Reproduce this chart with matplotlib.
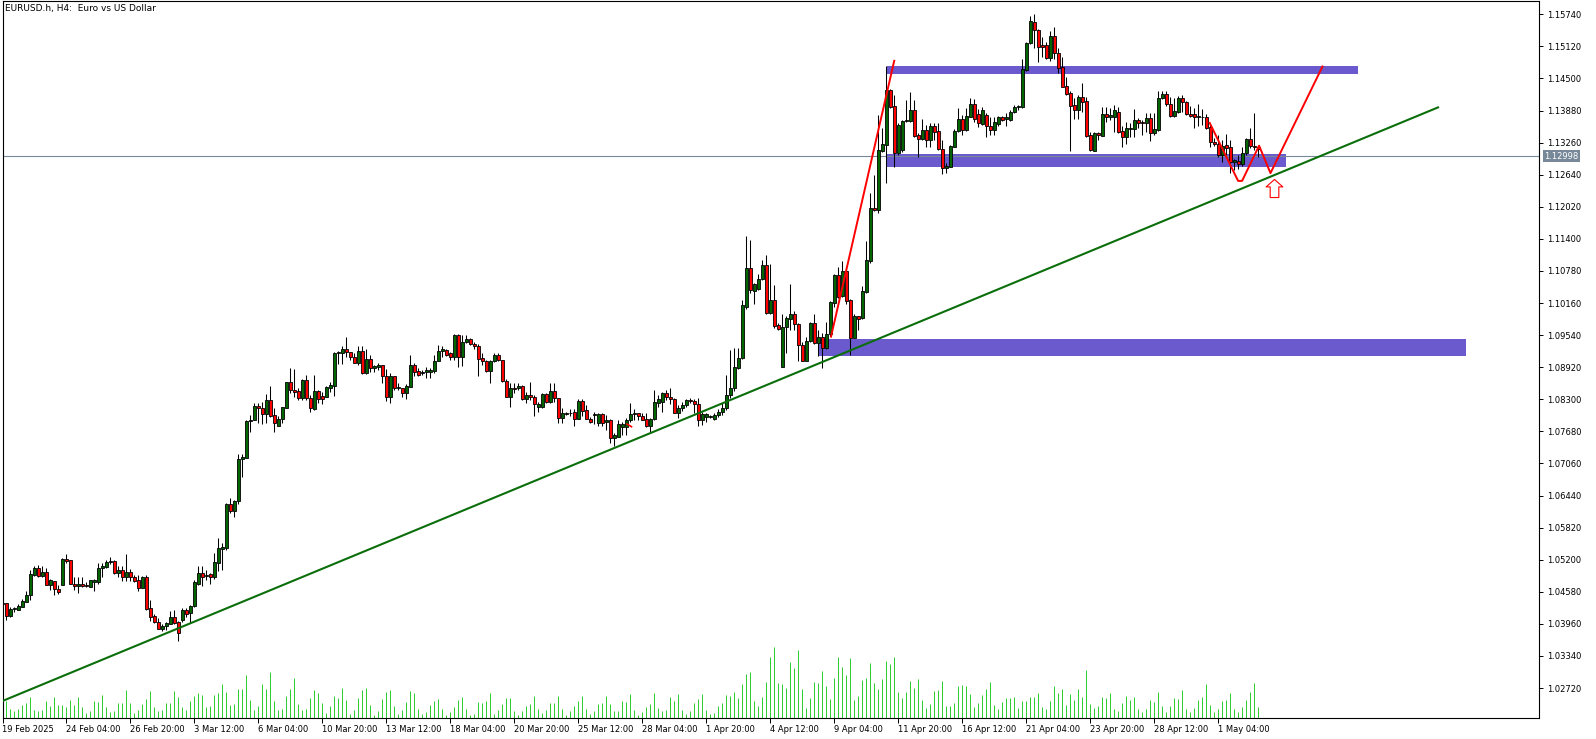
import numpy as np
import matplotlib
matplotlib.use("Agg")
import matplotlib.pyplot as plt
from matplotlib.patches import Rectangle
from matplotlib.path import Path

# EURUSD.h H4 candles, 19 Feb 2025 12:00 -> 2 May 2025 20:00 (one entry per bar)
opens = [
    1.0436, 1.0436, 1.0412, 1.0424, 1.0423, 1.0429, 1.0439, 1.0451, 1.0491, 1.0503,
    1.0489, 1.0496, 1.0472, 1.0478, 1.0464, 1.0472, 1.0521, 1.0519, 1.0474, 1.0469,
    1.0474, 1.0471, 1.0468, 1.0477, 1.0476, 1.0503, 1.0505, 1.0516, 1.0517, 1.0494,
    1.0500, 1.0486, 1.0496, 1.0486, 1.0481, 1.0466, 1.0486, 1.0426, 1.0411, 1.0400,
    1.0387, 1.0391, 1.0396, 1.0409, 1.0399, 1.0403, 1.0423, 1.0417, 1.0430, 1.0474,
    1.0494, 1.0488, 1.0492, 1.0486, 1.0514, 1.0541, 1.0542, 1.0628, 1.0615, 1.0633,
    1.0714, 1.0717, 1.0788, 1.0789, 1.0817, 1.0813, 1.0801, 1.0829, 1.0800, 1.0779,
    1.0792, 1.0814, 1.0863, 1.0848, 1.0846, 1.0832, 1.0867, 1.0832, 1.0811, 1.0846,
    1.0836, 1.0835, 1.0852, 1.0856, 1.0919, 1.0919, 1.0927, 1.0921, 1.0912, 1.0901,
    1.0923, 1.0880, 1.0908, 1.0890, 1.0893, 1.0896, 1.0875, 1.0835, 1.0875, 1.0851,
    1.0851, 1.0843, 1.0854, 1.0896, 1.0885, 1.0880, 1.0883, 1.0883, 1.0885, 1.0903,
    1.0923, 1.0925, 1.0919, 1.0912, 1.0954, 1.0912, 1.0940, 1.0946, 1.0937, 1.0932,
    1.0909, 1.0903, 1.0885, 1.0903, 1.0916, 1.0905, 1.0866, 1.0835, 1.0852, 1.0851,
    1.0856, 1.0831, 1.0838, 1.0834, 1.0815, 1.0815, 1.0840, 1.0824, 1.0846, 1.0832,
    1.0793, 1.0802, 1.0803, 1.0805, 1.0792, 1.0827, 1.0809, 1.0792, 1.0799, 1.0785,
    1.0801, 1.0786, 1.0790, 1.0755, 1.0758, 1.0777, 1.0777, 1.0789, 1.0802, 1.0803,
    1.0798, 1.0792, 1.0778, 1.0791, 1.0823, 1.0824, 1.0843, 1.0835, 1.0831, 1.0804,
    1.0814, 1.0818, 1.0829, 1.0826, 1.0820, 1.0789, 1.0795, 1.0795, 1.0792, 1.0800,
    1.0806, 1.0814, 1.0838, 1.0852, 1.0890, 1.0909, 1.1009, 1.1083, 1.1040, 1.1044,
    1.1062, 1.1089, 1.0997, 1.1022, 1.0974, 1.0893, 1.0969, 1.0986, 1.0995, 1.0976,
    1.0935, 1.0904, 1.0942, 1.0977, 1.0938, 1.0951, 1.0930, 1.0956, 1.1016, 1.1070,
    1.1029, 1.1078, 1.1022, 1.0949, 1.0990, 1.0987, 1.1038, 1.1098, 1.1199, 1.1195,
    1.1310, 1.1321, 1.1428, 1.1397, 1.1306, 1.1311, 1.1368, 1.1368, 1.1389, 1.1341,
    1.1332, 1.1350, 1.1331, 1.1358, 1.1348, 1.1313, 1.1276, 1.1279, 1.1318, 1.1348,
    1.1372, 1.1350, 1.1376, 1.1401, 1.1381, 1.1362, 1.1379, 1.1358, 1.1350, 1.1361,
    1.1376, 1.1372, 1.1370, 1.1385, 1.1394, 1.1395, 1.1466, 1.1518, 1.1559, 1.1544,
    1.1515, 1.1515, 1.1490, 1.1532, 1.1500, 1.1473, 1.1435, 1.1421, 1.1399, 1.1389,
    1.1415, 1.1407, 1.1341, 1.1310, 1.1344, 1.1339, 1.1381, 1.1376, 1.1376, 1.1385,
    1.1348, 1.1336, 1.1352, 1.1352, 1.1370, 1.1365, 1.1363, 1.1373, 1.1344, 1.1350,
    1.1412, 1.1420, 1.1401, 1.1377, 1.1386, 1.1412, 1.1404, 1.1382, 1.1382, 1.1375,
    1.1376, 1.1375, 1.1357, 1.1328, 1.1323, 1.1302, 1.1321, 1.1317, 1.1289, 1.1291,
    1.1284, 1.1305, 1.1333, 1.1319, 1.1318,
]
highs = [
    1.0440, 1.0437, 1.0428, 1.0428, 1.0434, 1.0445, 1.0459, 1.0500, 1.0507, 1.0510,
    1.0508, 1.0503, 1.0482, 1.0478, 1.0471, 1.0523, 1.0531, 1.0519, 1.0487, 1.0487,
    1.0487, 1.0476, 1.0481, 1.0483, 1.0514, 1.0514, 1.0519, 1.0526, 1.0519, 1.0507,
    1.0507, 1.0531, 1.0502, 1.0490, 1.0490, 1.0489, 1.0490, 1.0443, 1.0415, 1.0407,
    1.0396, 1.0400, 1.0420, 1.0423, 1.0402, 1.0426, 1.0426, 1.0433, 1.0480, 1.0507,
    1.0507, 1.0500, 1.0494, 1.0532, 1.0561, 1.0552, 1.0630, 1.0639, 1.0635, 1.0724,
    1.0724, 1.0790, 1.0800, 1.0822, 1.0822, 1.0825, 1.0840, 1.0856, 1.0813, 1.0798,
    1.0816, 1.0864, 1.0890, 1.0889, 1.0851, 1.0869, 1.0877, 1.0838, 1.0877, 1.0848,
    1.0845, 1.0856, 1.0864, 1.0921, 1.0924, 1.0933, 1.0951, 1.0922, 1.0919, 1.0932,
    1.0933, 1.0928, 1.0916, 1.0896, 1.0901, 1.0896, 1.0888, 1.0880, 1.0875, 1.0861,
    1.0851, 1.0860, 1.0916, 1.0901, 1.0890, 1.0887, 1.0893, 1.0890, 1.0916, 1.0934,
    1.0932, 1.0927, 1.0922, 1.0957, 1.0957, 1.0954, 1.0954, 1.0948, 1.0941, 1.0937,
    1.0919, 1.0906, 1.0905, 1.0919, 1.0919, 1.0906, 1.0869, 1.0861, 1.0861, 1.0861,
    1.0858, 1.0845, 1.0864, 1.0838, 1.0825, 1.0842, 1.0842, 1.0861, 1.0861, 1.0832,
    1.0813, 1.0806, 1.0811, 1.0811, 1.0831, 1.0831, 1.0819, 1.0795, 1.0806, 1.0803,
    1.0803, 1.0800, 1.0791, 1.0764, 1.0789, 1.0787, 1.0793, 1.0822, 1.0811, 1.0804,
    1.0803, 1.0803, 1.0793, 1.0848, 1.0838, 1.0845, 1.0848, 1.0851, 1.0832, 1.0819,
    1.0824, 1.0830, 1.0832, 1.0830, 1.0832, 1.0806, 1.0804, 1.0799, 1.0803, 1.0812,
    1.0822, 1.0877, 1.0925, 1.0929, 1.0929, 1.1022, 1.1146, 1.1138, 1.1055, 1.1073,
    1.1099, 1.1109, 1.1091, 1.1051, 1.0978, 1.0995, 1.0991, 1.1053, 1.1000, 1.0977,
    1.0941, 1.0951, 1.0980, 1.0994, 1.0964, 1.0958, 1.0980, 1.1019, 1.1073, 1.1086,
    1.1098, 1.1086, 1.1023, 1.0995, 1.0991, 1.1048, 1.1135, 1.1229, 1.1263, 1.1379,
    1.1355, 1.1474, 1.1429, 1.1418, 1.1363, 1.1370, 1.1408, 1.1424, 1.1408, 1.1344,
    1.1371, 1.1360, 1.1363, 1.1363, 1.1363, 1.1331, 1.1286, 1.1321, 1.1352, 1.1392,
    1.1379, 1.1393, 1.1413, 1.1410, 1.1390, 1.1394, 1.1384, 1.1376, 1.1375, 1.1377,
    1.1377, 1.1383, 1.1389, 1.1399, 1.1399, 1.1487, 1.1521, 1.1571, 1.1574, 1.1545,
    1.1531, 1.1521, 1.1542, 1.1550, 1.1508, 1.1492, 1.1453, 1.1425, 1.1412, 1.1418,
    1.1441, 1.1415, 1.1347, 1.1347, 1.1347, 1.1394, 1.1394, 1.1392, 1.1399, 1.1394,
    1.1358, 1.1365, 1.1363, 1.1390, 1.1373, 1.1370, 1.1383, 1.1383, 1.1383, 1.1426,
    1.1426, 1.1425, 1.1415, 1.1412, 1.1416, 1.1418, 1.1407, 1.1397, 1.1392, 1.1400,
    1.1390, 1.1382, 1.1360, 1.1334, 1.1341, 1.1331, 1.1343, 1.1331, 1.1295, 1.1302,
    1.1317, 1.1334, 1.1355, 1.1384, 1.1319,
]
lows = [
    1.0430, 1.0404, 1.0410, 1.0418, 1.0422, 1.0428, 1.0438, 1.0442, 1.0489, 1.0487,
    1.0487, 1.0471, 1.0461, 1.0451, 1.0454, 1.0471, 1.0513, 1.0473, 1.0461, 1.0455,
    1.0468, 1.0467, 1.0467, 1.0459, 1.0474, 1.0487, 1.0503, 1.0512, 1.0492, 1.0486,
    1.0478, 1.0478, 1.0478, 1.0476, 1.0460, 1.0465, 1.0422, 1.0402, 1.0397, 1.0386,
    1.0383, 1.0384, 1.0395, 1.0396, 1.0362, 1.0400, 1.0410, 1.0398, 1.0428, 1.0471,
    1.0469, 1.0481, 1.0474, 1.0482, 1.0499, 1.0500, 1.0539, 1.0611, 1.0603, 1.0628,
    1.0679, 1.0716, 1.0766, 1.0789, 1.0785, 1.0782, 1.0785, 1.0795, 1.0767, 1.0778,
    1.0784, 1.0813, 1.0843, 1.0834, 1.0829, 1.0829, 1.0829, 1.0806, 1.0810, 1.0822,
    1.0820, 1.0834, 1.0845, 1.0836, 1.0899, 1.0898, 1.0911, 1.0906, 1.0900, 1.0896,
    1.0879, 1.0879, 1.0882, 1.0883, 1.0887, 1.0861, 1.0827, 1.0823, 1.0848, 1.0848,
    1.0835, 1.0831, 1.0853, 1.0875, 1.0874, 1.0876, 1.0871, 1.0871, 1.0880, 1.0903,
    1.0912, 1.0914, 1.0906, 1.0905, 1.0893, 1.0894, 1.0938, 1.0935, 1.0928, 1.0874,
    1.0896, 1.0883, 1.0862, 1.0902, 1.0903, 1.0864, 1.0834, 1.0816, 1.0842, 1.0848,
    1.0829, 1.0822, 1.0829, 1.0798, 1.0806, 1.0814, 1.0822, 1.0822, 1.0825, 1.0784,
    1.0785, 1.0800, 1.0797, 1.0779, 1.0791, 1.0798, 1.0791, 1.0784, 1.0782, 1.0778,
    1.0778, 1.0771, 1.0745, 1.0739, 1.0757, 1.0761, 1.0761, 1.0787, 1.0790, 1.0789,
    1.0789, 1.0777, 1.0765, 1.0790, 1.0815, 1.0806, 1.0829, 1.0821, 1.0803, 1.0793,
    1.0808, 1.0816, 1.0822, 1.0803, 1.0778, 1.0780, 1.0787, 1.0794, 1.0790, 1.0795,
    1.0800, 1.0810, 1.0832, 1.0846, 1.0888, 1.0907, 1.1004, 1.1035, 1.1015, 1.1041,
    1.1061, 1.0995, 1.0995, 1.0967, 1.0964, 1.0892, 1.0919, 1.0964, 1.0964, 1.0903,
    1.0903, 1.0903, 1.0940, 1.0937, 1.0914, 1.0890, 1.0928, 1.0952, 1.1009, 1.1025,
    1.1028, 1.1015, 1.0916, 1.0948, 1.0964, 1.0985, 1.1035, 1.1093, 1.1193, 1.1189,
    1.1308, 1.1247, 1.1392, 1.1279, 1.1302, 1.1308, 1.1366, 1.1366, 1.1337, 1.1298,
    1.1331, 1.1318, 1.1318, 1.1331, 1.1312, 1.1265, 1.1267, 1.1278, 1.1317, 1.1347,
    1.1341, 1.1349, 1.1375, 1.1365, 1.1357, 1.1360, 1.1336, 1.1341, 1.1341, 1.1358,
    1.1368, 1.1358, 1.1368, 1.1383, 1.1389, 1.1392, 1.1465, 1.1517, 1.1508, 1.1482,
    1.1491, 1.1487, 1.1484, 1.1487, 1.1461, 1.1433, 1.1418, 1.1309, 1.1371, 1.1371,
    1.1386, 1.1337, 1.1310, 1.1309, 1.1331, 1.1339, 1.1365, 1.1370, 1.1347, 1.1345,
    1.1317, 1.1323, 1.1336, 1.1336, 1.1354, 1.1341, 1.1347, 1.1330, 1.1341, 1.1349,
    1.1410, 1.1397, 1.1375, 1.1375, 1.1384, 1.1385, 1.1379, 1.1376, 1.1355, 1.1358,
    1.1360, 1.1353, 1.1318, 1.1319, 1.1299, 1.1289, 1.1302, 1.1267, 1.1273, 1.1274,
    1.1281, 1.1302, 1.1315, 1.1312, 1.1299,
]
closes = [
    1.0434, 1.0412, 1.0424, 1.0426, 1.0431, 1.0440, 1.0451, 1.0492, 1.0503, 1.0489,
    1.0496, 1.0472, 1.0480, 1.0464, 1.0458, 1.0521, 1.0518, 1.0474, 1.0469, 1.0474,
    1.0470, 1.0469, 1.0480, 1.0481, 1.0503, 1.0507, 1.0516, 1.0518, 1.0494, 1.0500,
    1.0486, 1.0496, 1.0486, 1.0479, 1.0466, 1.0486, 1.0425, 1.0410, 1.0399, 1.0387,
    1.0392, 1.0397, 1.0409, 1.0398, 1.0378, 1.0423, 1.0415, 1.0431, 1.0476, 1.0494,
    1.0487, 1.0490, 1.0486, 1.0515, 1.0542, 1.0545, 1.0628, 1.0615, 1.0633, 1.0714,
    1.0719, 1.0788, 1.0790, 1.0817, 1.0813, 1.0801, 1.0829, 1.0798, 1.0784, 1.0792,
    1.0815, 1.0863, 1.0847, 1.0845, 1.0833, 1.0867, 1.0832, 1.0813, 1.0846, 1.0831,
    1.0831, 1.0854, 1.0858, 1.0919, 1.0921, 1.0927, 1.0921, 1.0911, 1.0901, 1.0923,
    1.0880, 1.0908, 1.0890, 1.0894, 1.0896, 1.0874, 1.0835, 1.0875, 1.0851, 1.0853,
    1.0843, 1.0856, 1.0896, 1.0883, 1.0876, 1.0883, 1.0886, 1.0887, 1.0904, 1.0924,
    1.0927, 1.0916, 1.0912, 1.0954, 1.0912, 1.0940, 1.0946, 1.0936, 1.0932, 1.0908,
    1.0903, 1.0885, 1.0903, 1.0916, 1.0905, 1.0866, 1.0835, 1.0852, 1.0850, 1.0856,
    1.0831, 1.0838, 1.0834, 1.0820, 1.0820, 1.0840, 1.0824, 1.0846, 1.0832, 1.0793,
    1.0803, 1.0804, 1.0804, 1.0792, 1.0827, 1.0808, 1.0792, 1.0786, 1.0801, 1.0801,
    1.0785, 1.0790, 1.0756, 1.0760, 1.0782, 1.0782, 1.0790, 1.0802, 1.0803, 1.0797,
    1.0790, 1.0778, 1.0792, 1.0824, 1.0830, 1.0843, 1.0835, 1.0830, 1.0804, 1.0814,
    1.0819, 1.0829, 1.0827, 1.0820, 1.0789, 1.0802, 1.0802, 1.0797, 1.0800, 1.0806,
    1.0814, 1.0838, 1.0852, 1.0892, 1.0910, 1.1012, 1.1083, 1.1041, 1.1053, 1.1062,
    1.1089, 1.0997, 1.1022, 1.0972, 1.0965, 1.0969, 1.0987, 1.0995, 1.0976, 1.0935,
    1.0904, 1.0943, 1.0977, 1.0938, 1.0951, 1.0930, 1.0956, 1.1017, 1.1070, 1.1028,
    1.1078, 1.1019, 1.0949, 1.0990, 1.0985, 1.1040, 1.1099, 1.1199, 1.1196, 1.1312,
    1.1323, 1.1428, 1.1395, 1.1306, 1.1360, 1.1368, 1.1370, 1.1389, 1.1339, 1.1332,
    1.1350, 1.1331, 1.1358, 1.1347, 1.1313, 1.1276, 1.1280, 1.1319, 1.1349, 1.1371,
    1.1350, 1.1377, 1.1401, 1.1371, 1.1363, 1.1389, 1.1358, 1.1350, 1.1365, 1.1376,
    1.1370, 1.1375, 1.1386, 1.1395, 1.1396, 1.1468, 1.1519, 1.1560, 1.1544, 1.1511,
    1.1510, 1.1490, 1.1532, 1.1500, 1.1471, 1.1434, 1.1420, 1.1397, 1.1389, 1.1415,
    1.1405, 1.1339, 1.1312, 1.1345, 1.1341, 1.1381, 1.1376, 1.1380, 1.1389, 1.1347,
    1.1336, 1.1354, 1.1355, 1.1370, 1.1364, 1.1363, 1.1373, 1.1345, 1.1352, 1.1413,
    1.1420, 1.1401, 1.1377, 1.1387, 1.1413, 1.1404, 1.1382, 1.1378, 1.1375, 1.1378,
    1.1375, 1.1355, 1.1328, 1.1324, 1.1302, 1.1320, 1.1315, 1.1289, 1.1293, 1.1284,
    1.1305, 1.1333, 1.1319, 1.1317, 1.1314,
]
tick_volume = [
    5000,
    5000, 2800, 2000, 2800, 4000, 4600, 6200, 2500, 2200, 2500,
    5200, 3700, 6400, 4000, 4000, 3400, 5500, 4000, 6200, 3400,
    1600, 2200, 5200, 4900, 7000, 3400, 1900, 2200, 4600, 4600,
    8500, 4600, 1600, 2500, 4300, 5800, 8200, 3400, 2200, 2500,
    4600, 4600, 8200, 6400, 3400, 2500, 5200, 6700, 7600, 7000,
    3400, 3700, 7000, 7600, 10300, 7900, 4000, 4300, 8800, 8800,
    13000, 5500, 2500, 3700, 10300, 8800, 13900, 5200, 2500, 2800,
    6700, 8800, 12100, 4300, 2500, 2800, 6100, 8500, 7600, 4600,
    1600, 3700, 6700, 6100, 9100, 5500, 1300, 2500, 6100, 8500,
    9100, 4000, 1000, 2200, 5800, 7900, 8500, 3700, 1300, 2500,
    4900, 8200, 7600, 2800, 1300, 1900, 4000, 5200, 5800, 2800,
    1000, 1900, 3400, 5500, 6400, 2800, 1000, 1300, 4900, 4600,
    5200, 7600, 1300, 2500, 4300, 6100, 6100, 2200, 1000, 2200,
    3700, 4300, 6700, 2800, 1600, 2500, 4600, 4600, 6700, 2800,
    1000, 2200, 3700, 5200, 6700, 2800, 1300, 2200, 4300, 4600,
    6700, 4300, 2200, 2200, 5200, 4900,
    7300, 2500, 1000, 1900, 3400, 4300, 7600, 3100, 2200, 2500,
    6400, 5200, 7300, 2500, 1300, 2200, 4600, 5800, 7300, 2500,
    1300, 1600, 3700, 4600, 7000, 6700, 7900, 6100, 10300, 13300,
    13900, 5200, 3700, 6400, 10900, 18400, 21400, 10600, 10300, 9100,
    16900, 15100, 20500, 8800, 3100, 6100, 10900, 10600, 14200, 9700,
    5800, 12100, 18400, 15400, 13000, 18100, 5500, 6700, 11500, 12100,
    16600, 10600, 8800, 11800, 17200, 16300, 18400, 7900, 6100, 7900,
    11200, 9100, 11800, 5500, 3100, 4300, 8200, 8500, 11200, 3700,
    3700, 4600, 9700, 10000, 9700, 7300, 3400, 4600, 7000, 8800,
    10900, 4000, 2800, 4900, 6100, 6100, 6400, 3100, 5200, 5200,
    6400, 6400, 7600, 3400, 2800, 5200, 9700, 7600, 8800, 4000,
    7300, 5500, 8800, 6400, 14500, 4300, 3100, 3700, 6400, 6100,
    7600, 2800, 2200, 4600, 6700, 5500, 6400, 2800, 1900, 2800,
    5500, 4900, 7900, 3700, 1900, 3700, 6100, 5800, 8500, 2800,
    1900, 3100, 5500, 6400, 10300, 4000, 1900, 2800, 5200, 5500,
    7600, 2800, 1900, 3400, 5500, 7900, 10600, 3400,
]

# time axis labels (every 16th bar) and price scale
label_bars = [0, 16, 32, 48, 64, 80, 96, 112, 128, 144,
              160, 176, 192, 208, 224, 240, 256, 272, 288, 304]
label_texts = ["19 Feb 2025", "24 Feb 04:00", "26 Feb 20:00", "3 Mar 12:00", "6 Mar 04:00",
               "10 Mar 20:00", "13 Mar 12:00", "18 Mar 04:00", "20 Mar 20:00", "25 Mar 12:00",
               "28 Mar 04:00", "1 Apr 20:00", "4 Apr 12:00", "9 Apr 04:00", "11 Apr 20:00",
               "16 Apr 12:00", "21 Apr 04:00", "23 Apr 20:00", "28 Apr 12:00", "1 May 04:00"]
price_labels = ["1.15740", "1.15120", "1.14500", "1.13880", "1.13260", "1.12640",
                "1.12020", "1.11400", "1.10780", "1.10160", "1.09540", "1.08920",
                "1.08300", "1.07680", "1.07060", "1.06440", "1.05820", "1.05200",
                "1.04580", "1.03960", "1.03340", "1.02720"]
bid_price = 1.12998

# chart objects, anchored at (bar index, price)
zone_start = [204.1, 221.2, 221.2]
zone_end = [366.0, 339.0, 321.0]
zone_low = [1.0914, 1.1459, 1.1279]
zone_high = [1.0947, 1.1474, 1.1303]
trend_bars = [0.0, 359.0]
trend_prices = [1.0247, 1.1394]
impulse_bars = [207.2, 223.0]
impulse_prices = [1.0951, 1.1484]
path_bars = [301.9, 309.0, 310.0, 314.25, 317.1, 330.1]
path_prices = [1.1364, 1.1252, 1.1252, 1.1320, 1.1267, 1.1473]
hook_bars = [156.2, 157.3]
hook_prices = [1.0782, 1.0777]
arrow_bar = 318.1
arrow_price = 1.1238

o = np.array(opens)
h = np.array(highs)
l = np.array(lows)
c = np.array(closes)
v = np.array(tick_volume)
x = np.arange(len(c))

W, H = 1596, 739
fig = plt.figure(figsize=(W / 100, H / 100), dpi=100)
fig.patch.set_facecolor("white")

# plot area in pixels: left 2.5, right 1539, top 1, bottom 718
rect = [2.5 / W, (H - 718) / H, (1539 - 2.5) / W, 717 / H]
xlim = ((2.5 - 2) / 4, (1539 - 2) / 4)   # one bar every 4 px
ylim = (1.02141, 1.15996)

# volumes sit in their own axes behind the price axes
ax_vol = fig.add_axes(rect)
ax_vol.vlines(x, 0, v, color="#32cd32", lw=0.72)
ax_vol.set_xlim(xlim)
ax_vol.set_ylim(0, 717 * 300)
ax_vol.axis("off")

ax = fig.add_axes(rect)
ax.patch.set_visible(False)
ax.set_xlim(xlim)
ax.set_ylim(ylim)

# support / resistance zones
for x0, x1, lo, hi in zip(zone_start, zone_end, zone_low, zone_high):
    ax.add_patch(Rectangle((x0, lo), x1 - x0, hi - lo, facecolor="#6a5acd",
                           edgecolor="none", zorder=1))

ax.axhline(bid_price, color="#778899", lw=0.8, zorder=2)

# candles
up = c >= o
body_lo = np.minimum(o, c)
body_h = np.maximum(np.abs(c - o), 0.00003)
ax.vlines(x, l, h, color="black", lw=0.75, zorder=3)
ax.bar(x[up], body_h[up], bottom=body_lo[up], width=0.75, color="#006400",
       edgecolor="black", lw=0.6, zorder=4)
ax.bar(x[~up], body_h[~up], bottom=body_lo[~up], width=0.75, color="#ff0000",
       edgecolor="black", lw=0.6, zorder=4)

# drawings
ax.plot(trend_bars, trend_prices, color="#0a6e0a", lw=1.5, zorder=5)
ax.plot(impulse_bars, impulse_prices, color="#ff0000", lw=1.4, zorder=5)
ax.plot(path_bars, path_prices, color="#ff0000", lw=1.4, zorder=5)
ax.plot(hook_bars, hook_prices, color="#ff0000", lw=1.2, zorder=5)

arrow_verts = [(0, 0.5), (0.464, 0.089), (0.239, 0.089), (0.239, -0.5),
               (-0.239, -0.5), (-0.239, 0.089), (-0.464, 0.089), (0, 0.5)]
arrow_codes = [Path.MOVETO] + [Path.LINETO] * 6 + [Path.CLOSEPOLY]
ax.plot([arrow_bar], [arrow_price], marker=Path(arrow_verts, arrow_codes), ms=13,
        mfc="white", mec="#ff0000", mew=0.8, ls="none", zorder=6)

# axes styling
for s in ax.spines.values():
    s.set_linewidth(0.8)
    s.set_color("black")

ax.yaxis.tick_right()
ax.set_yticks([float(p) for p in price_labels])
ax.set_yticklabels(price_labels)
ax.tick_params(axis="y", right=True, left=False, labelright=True, labelleft=False,
               length=3, width=0.7, pad=3, labelsize=6)
ax.set_xticks(label_bars)
ax.set_xticklabels(label_texts)
ax.tick_params(axis="x", length=3.5, width=0.7, pad=1.5, labelsize=6)
for lbl in ax.get_xticklabels():
    lbl.set_ha("left")

ax.text(1.0035, bid_price, "1.12998", transform=ax.get_yaxis_transform(),
        fontsize=6, color="white", va="center", ha="left", clip_on=False,
        bbox=dict(boxstyle="square,pad=0.2", fc="#778899", ec="none"))

fig.text(5 / W, 1 - 9 / H, "EURUSD.h, H4:  Euro vs US Dollar", fontsize=6.5,
         va="center", ha="left", color="black")

fig.savefig("out.png", dpi=100)
